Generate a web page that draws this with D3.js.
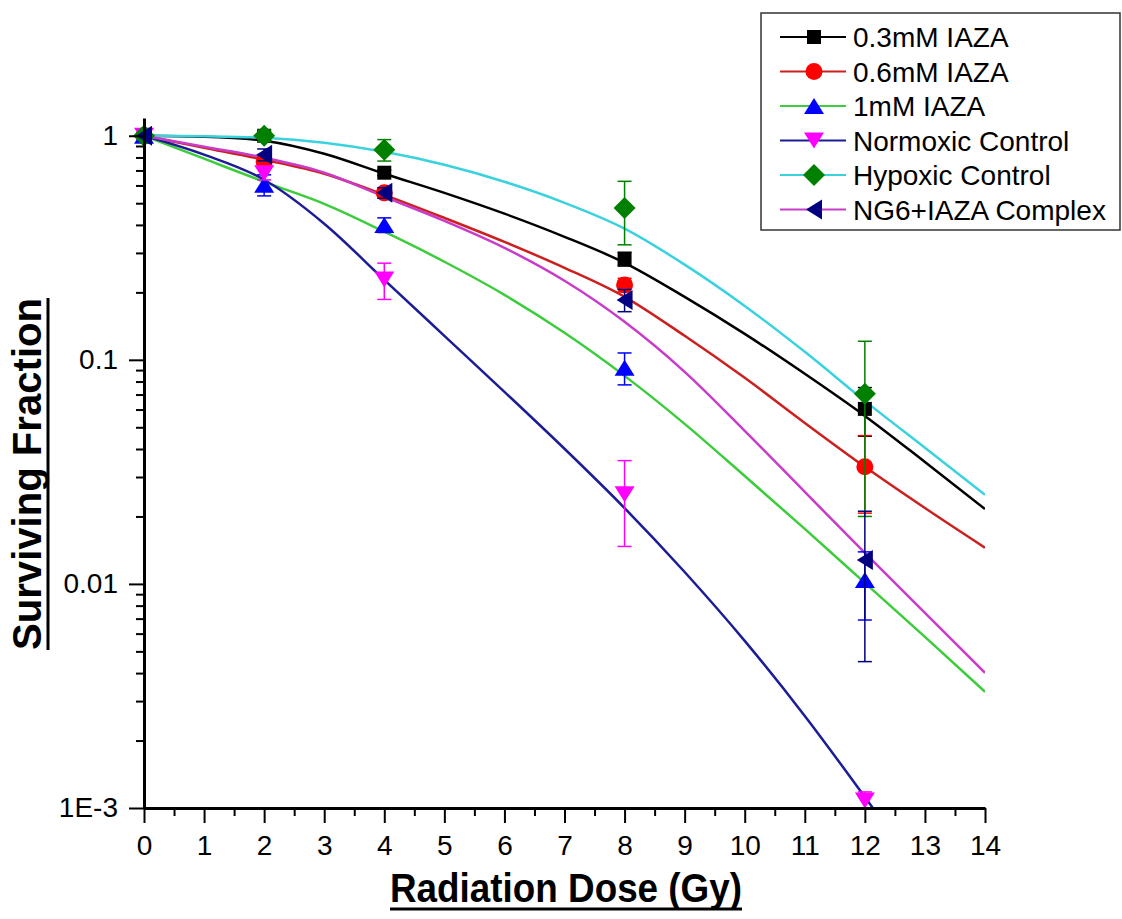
<!DOCTYPE html>
<html>
<head>
<meta charset="utf-8">
<script src="https://cdn.jsdelivr.net/npm/d3@7"></script>
<style>
  body { margin: 0; background: #fff; }
  svg { display: block; font-family: "Liberation Sans", Arial, sans-serif; }
</style>
</head>
<body>
<div id="chart"></div>
<script>
// measured doses (Gy)
var doses = [0, 2, 4, 8, 12];
var fitDoses = [0, 1, 2, 3, 4, 5, 6, 7, 8, 9, 10, 11, 12, 13, 14];

var seriesNames = ["0.3mM IAZA", "0.6mM IAZA", "1mM IAZA", "Normoxic Control", "Hypoxic Control", "NG6+IAZA Complex"];

// surviving fraction + error
var sf03   = [1, 1.0, 0.684, 0.282, 0.0604];
var err03  = [0, 0.04, 0.02, 0.02, 0.0148];
var sf06   = [1, 0.765, 0.556, 0.216, 0.0333];
var err06  = [0, 0.04, 0.03, 0.015, 0.0126];
var sf1    = [1, 0.604, 0.40, 0.0923, 0.0104];
var err1   = [0, 0.065, 0.03, 0.015, 0.0035];
var sfNorm = [1, 0.68, 0.228, 0.0251, 0.00108];
var errNorm= [0, 0.045, 0.042, 0.0104, 0.0001];
var sfHyp  = [1, 1.0, 0.866, 0.476, 0.0705];
var errHyp = [0, 0.06, 0.095, 0.15, 0.0505];
var sfNG6  = [1, 0.823, 0.556, 0.185, 0.0128];
var errNG6 = [0, 0.05, 0.03, 0.021, 0.0083];

// fitted curves, read at each whole dose
var fit03   = [1, 0.990, 0.950, 0.831, 0.677, 0.556, 0.449, 0.354, 0.271, 0.191, 0.1306, 0.0866, 0.0562, 0.0350, 0.0216];
var fit06   = [1, 0.884, 0.781, 0.677, 0.545, 0.430, 0.336, 0.2574, 0.1911, 0.128, 0.0831, 0.0523, 0.0333, 0.0218, 0.0145];
var fit1    = [1, 0.790, 0.623, 0.497, 0.373, 0.274, 0.195, 0.132, 0.0848, 0.0518, 0.0303, 0.0176, 0.0101, 0.0058, 0.0033];
var fitNorm = [1, 0.823, 0.636, 0.405, 0.2276, 0.128, 0.072, 0.0401, 0.0218, 0.0113, 0.00557, 0.002575, 0.00112, 0.000477, null];
var fitHyp  = [1, 0.995, 0.980, 0.931, 0.848, 0.742, 0.623, 0.502, 0.385, 0.266, 0.174, 0.1086, 0.0656, 0.0405, 0.0250];
var fitNG6  = [1, 0.893, 0.798, 0.684, 0.534, 0.417, 0.316, 0.2253, 0.1478, 0.0884, 0.0482, 0.02575, 0.01375, 0.00742, 0.00401];

var xTicks = [0, 1, 2, 3, 4, 5, 6, 7, 8, 9, 10, 11, 12, 13, 14];
var yTicks = [1, 0.1, 0.01, 0.001];
var yTickLabels = ["1", "0.1", "0.01", "1E-3"];

// styles per series
var markerColors = ["#000000", "#ff0000", "#0000ff", "#ff00ff", "#008000", "#000080"];
var lineColors   = ["#000000", "#cc2020", "#3ccc3c", "#1c1c96", "#3ad2de", "#c83cc8"];
var shapes       = ["square", "circle", "up", "down", "diamond", "left"];

var sfList  = [sf03, sf06, sf1, sfNorm, sfHyp, sfNG6];
var errList = [err03, err06, err1, errNorm, errHyp, errNG6];
var fitList = [fit03, fit06, fit1, fitNorm, fitHyp, fitNG6];

var series = seriesNames.map(function(name, i) {
  return {
    name: name,
    points: doses.map(function(d, j) { return {x: d, y: sfList[i][j], e: errList[i][j]}; }),
    fit: fitDoses.map(function(d, j) { return {x: d, y: fitList[i][j]}; }),
    color: markerColors[i], line: lineColors[i], shape: shapes[i]
  };
});

function shapePath(s) {
  if (s == "square") return "M-7,-7H7V7H-7Z";
  if (s == "circle") return "M-8.5,0A8.5,8.5 0 1,0 8.5,0A8.5,8.5 0 1,0 -8.5,0Z";
  if (s == "up") return "M0,-8L10,8L-10,8Z";
  if (s == "down") return "M-10,-8L10,-8L0,8Z";
  if (s == "diamond") return "M0,-11L11,0L0,11L-11,0Z";
  if (s == "left") return "M-8,0L8,-10L8,10Z";
}

var W = 1122, H = 919;
var svg = d3.select("#chart").append("svg").attr("width", W).attr("height", H);

var xScale = d3.scaleLinear().domain([0, 14]).range([144, 985]);
var yScale = d3.scaleLog().domain([0.001, 1.2]).range([808, 118]);

svg.append("clipPath").attr("id", "plotclip")
  .append("rect").attr("x", 144).attr("y", 118).attr("width", 841).attr("height", 690);

// fitted curves
var lineGen = d3.line()
  .defined(function(d) { return d.y != null; })
  .x(function(d) { return xScale(d.x); })
  .y(function(d) { return yScale(d.y); })
  .curve(d3.curveMonotoneX);

var curves = svg.append("g").attr("clip-path", "url(#plotclip)");
series.forEach(function(s) {
  curves.append("path")
    .attr("d", lineGen(s.fit))
    .attr("fill", "none")
    .attr("stroke", s.line)
    .attr("stroke-width", 2.5);
});

// error bars and markers
var marks = svg.append("g");
series.forEach(function(s) {
  var g = marks.append("g");
  s.points.forEach(function(p) {
    if (!p.e) return;
    var lo = Math.max(p.y - p.e, 0.001);
    var x = xScale(p.x), y1 = yScale(p.y + p.e), y2 = yScale(lo);
    g.append("line").attr("x1", x).attr("x2", x).attr("y1", y1).attr("y2", y2)
      .attr("stroke", s.color).attr("stroke-width", 1.5);
    g.append("line").attr("x1", x - 7).attr("x2", x + 7).attr("y1", y1).attr("y2", y1)
      .attr("stroke", s.color).attr("stroke-width", 1.5);
    if (p.y - p.e > 0.001)
      g.append("line").attr("x1", x - 7).attr("x2", x + 7).attr("y1", y2).attr("y2", y2)
        .attr("stroke", s.color).attr("stroke-width", 1.5);
  });
  g.selectAll("path.pt").data(s.points).enter().append("path")
    .attr("class", "pt")
    .attr("d", shapePath(s.shape))
    .attr("transform", function(d) { return "translate(" + xScale(d.x) + "," + yScale(d.y) + ")"; })
    .attr("fill", s.color);
});

// axes
var xAxis = svg.append("g").attr("transform", "translate(0,808)")
  .call(d3.axisBottom(xScale).tickValues(xTicks).tickFormat(d3.format("d"))
    .tickSize(15).tickSizeOuter(0).tickPadding(12));
svg.append("g").attr("transform", "translate(0,808)")
  .call(d3.axisBottom(xScale).tickValues(d3.range(0.5, 14, 1)).tickFormat("")
    .tickSize(8).tickSizeOuter(0))
  .select(".domain").remove();

var yAxis = svg.append("g").attr("transform", "translate(144,0)")
  .call(d3.axisLeft(yScale).tickValues(yTicks)
    .tickFormat(function(d, i) { return yTickLabels[i]; })
    .tickSize(15).tickSizeOuter(0).tickPadding(11));
var minorY = [];
[0.001, 0.01, 0.1].forEach(function(dec) {
  for (var m = 2; m <= 9; m++) minorY.push(m * dec);
});
svg.append("g").attr("transform", "translate(144,0)")
  .call(d3.axisLeft(yScale).tickValues(minorY).tickFormat("").tickSize(8).tickSizeOuter(0))
  .select(".domain").remove();

svg.selectAll(".tick line").attr("stroke", "#000").attr("stroke-width", 2);
svg.selectAll(".domain").attr("stroke", "#000").attr("stroke-width", 3);
svg.selectAll(".tick text").attr("font-size", "28px").attr("fill", "#000")
  .attr("font-family", "'Liberation Sans', Arial, sans-serif");

// axis titles (condensed bold look)
svg.append("text")
  .attr("x", 566).attr("y", 902)
  .attr("text-anchor", "middle")
  .attr("font-size", "40px").attr("font-weight", "bold")
  .attr("textLength", 352).attr("lengthAdjust", "spacingAndGlyphs")
  .text("Radiation Dose (Gy)");
svg.append("line").attr("x1", 390).attr("x2", 742).attr("y1", 909).attr("y2", 909)
  .attr("stroke", "#000").attr("stroke-width", 3);

var yt = svg.append("g").attr("transform", "translate(41,474) rotate(-90)");
yt.append("text")
  .attr("text-anchor", "middle")
  .attr("font-size", "40px").attr("font-weight", "bold")
  .attr("textLength", 352).attr("lengthAdjust", "spacingAndGlyphs")
  .text("Surviving Fraction");
yt.append("line").attr("x1", -176).attr("x2", 176).attr("y1", 7).attr("y2", 7)
  .attr("stroke", "#000").attr("stroke-width", 3);

// legend
var legend = svg.append("g");
legend.append("rect").attr("x", 761).attr("y", 13).attr("width", 359).attr("height", 217)
  .attr("fill", "#fff").attr("stroke", "#333").attr("stroke-width", 1.5);
series.forEach(function(s, i) {
  var ly = 37 + i * 34.5;
  legend.append("line").attr("x1", 780).attr("x2", 846).attr("y1", ly).attr("y2", ly)
    .attr("stroke", s.line).attr("stroke-width", 2);
  legend.append("path").attr("d", shapePath(s.shape))
    .attr("transform", "translate(814," + ly + ")").attr("fill", s.color);
  legend.append("text").attr("x", 853).attr("y", ly).attr("dy", "0.36em")
    .attr("font-size", "28px").attr("fill", "#000").text(s.name);
});
</script>
</body>
</html>
